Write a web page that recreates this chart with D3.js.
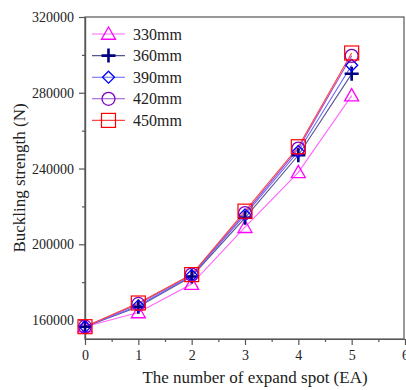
<!DOCTYPE html>
<html>
<head>
<meta charset="utf-8">
<script src="https://cdn.jsdelivr.net/npm/d3@7"></script>
<style>
  body { margin: 0; background: #fff; }
  text { font-family: "Liberation Serif", "Times New Roman", serif; fill: #222; }
</style>
</head>
<body>
<div id="chart"></div>
<script>
var xValues = [0, 1, 2, 3, 4, 5];
var seriesNames = ["330mm", "360mm", "390mm", "420mm", "450mm"];
var s330 = [156500, 164000, 179000, 209000, 238000, 278500];
var s360 = [156500, 167000, 183000, 214000, 247000, 290000];
var s390 = [156500, 167500, 183500, 215500, 249000, 294500];
var s420 = [156500, 168500, 184000, 216500, 250500, 299500];
var s450 = [156500, 169000, 184000, 217500, 251500, 301000];
var seriesValues = [s330, s360, s390, s420, s450];
var colors = ["#ff00ff", "#000080", "#0000ff", "#8000c0", "#ff0000"];
var lineColors = ["#ff66ff", "#55558f", "#6666ff", "#9a4fd0", "#ff4444"];
var symbols = ["triangle", "plus", "diamond", "circle", "square"];
var yTicks = [160000, 200000, 240000, 280000, 320000];
var xTicks = [0, 1, 2, 3, 4, 5, 6];

var margin = { left: 85, right: 2, top: 17, bottom: 51 };
var W = 406, H = 390;
var width = W - margin.left - margin.right,
    height = H - margin.top - margin.bottom;

var svg = d3.select("#chart").append("svg")
    .attr("width", W).attr("height", H);
var g = svg.append("g")
    .attr("transform", "translate(" + margin.left + "," + margin.top + ")");

var x = d3.scaleLinear().domain([0, 6]).range([0, 320]);
var y = d3.scaleLinear().domain([150000, 320000]).range([height, 0]);

// frame
g.append("rect")
    .attr("width", width).attr("height", height)
    .attr("fill", "none").attr("stroke", "#555").attr("stroke-width", 1.2);

// axes
g.append("g")
    .attr("transform", "translate(0," + height + ")")
    .call(d3.axisBottom(x).tickValues(xTicks).tickFormat(d3.format("d"))
        .tickSize(6).tickSizeOuter(0).tickPadding(5));
g.append("g")
    .attr("transform", "translate(0," + height + ")")
    .call(d3.axisBottom(x).tickValues(d3.range(0.5, 6, 1)).tickSize(3).tickFormat("").tickSizeOuter(0));
g.append("g")
    .call(d3.axisLeft(y).tickValues(yTicks).tickFormat(d3.format("d"))
        .tickSize(6).tickSizeOuter(0).tickPadding(5));
g.append("g")
    .call(d3.axisLeft(y).tickValues([180000, 220000, 260000, 300000]).tickSize(3).tickFormat("").tickSizeOuter(0));

g.selectAll(".domain").attr("stroke", "#555").attr("stroke-width", 1.2);
g.selectAll(".tick line").attr("stroke", "#555").attr("stroke-width", 1.2);
g.selectAll(".tick text")
    .style("font-family", "Liberation Serif, serif")
    .style("font-size", "14px").attr("fill", "#222");

// labels
svg.append("text")
    .attr("x", 255).attr("y", 383)
    .attr("text-anchor", "middle")
    .style("font-size", "17px")
    .text("The number of expand spot (EA)");
svg.append("text")
    .attr("transform", "translate(25," + (margin.top + height / 2) + ") rotate(-90)")
    .attr("text-anchor", "middle")
    .style("font-size", "17px")
    .text("Buckling strength (N)");

function drawMarker(sel, type, color) {
  var s = 7;
  if (type === "triangle") {
    sel.append("path").attr("d", "M0," + (-s) + "L" + s + "," + (s * 0.75) + "L" + (-s) + "," + (s * 0.75) + "Z")
      .attr("fill", "none").attr("stroke", color).attr("stroke-width", 1.3);
  } else if (type === "plus") {
    sel.append("path").attr("d", "M-7,0H7M0,-7V7")
      .attr("fill", "none").attr("stroke", color).attr("stroke-width", 2.6);
  } else if (type === "diamond") {
    sel.append("path").attr("d", "M0,-6L6,0L0,6L-6,0Z")
      .attr("fill", "none").attr("stroke", color).attr("stroke-width", 1.3);
  } else if (type === "circle") {
    sel.append("circle").attr("r", 6.5)
      .attr("fill", "none").attr("stroke", color).attr("stroke-width", 1.3);
  } else {
    sel.append("rect").attr("x", -7).attr("y", -7).attr("width", 14).attr("height", 14)
      .attr("fill", "none").attr("stroke", color).attr("stroke-width", 1.2);
  }
}

var line = d3.line()
    .x(function(d, i) { return x(xValues[i]); })
    .y(function(d) { return y(d); });

seriesValues.forEach(function(vals, k) {
  g.append("path")
    .datum(vals)
    .attr("d", line)
    .attr("fill", "none")
    .attr("stroke", lineColors[k])
    .attr("stroke-width", 1.1);
});
seriesValues.forEach(function(vals, k) {
  vals.forEach(function(v, i) {
    var m = g.append("g")
      .attr("transform", "translate(" + x(xValues[i]) + "," + y(v) + ")");
    drawMarker(m, symbols[k], colors[k]);
  });
});

// legend
var legend = svg.append("g").attr("transform", "translate(92,34)");
seriesNames.forEach(function(name, k) {
  var row = legend.append("g").attr("transform", "translate(0," + (k * 21.6) + ")");
  row.append("line")
    .attr("x1", 0).attr("x2", 33)
    .attr("stroke", lineColors[k]).attr("stroke-width", 1.1);
  var m = row.append("g").attr("transform", "translate(16.5,0)");
  drawMarker(m, symbols[k], colors[k]);
  row.append("text")
    .attr("x", 41).attr("y", 5.5)
    .style("font-size", "16px")
    .text(name);
});
</script>
</body>
</html>
